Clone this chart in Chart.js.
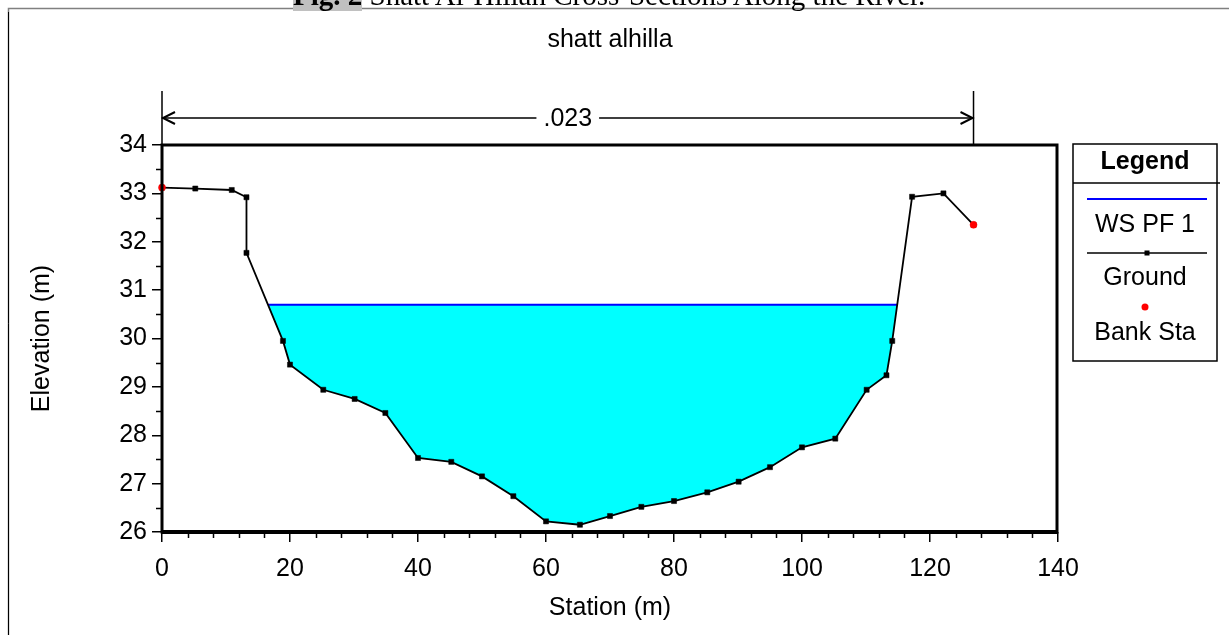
<!DOCTYPE html>
<html>
<head>
<meta charset="utf-8">
<script src="https://cdn.jsdelivr.net/npm/chart.js@4/dist/chart.umd.min.js"></script>
<style>
  html, body { margin: 0; padding: 0; background: #fff; overflow: hidden; }
  #wrap { position: relative; width: 1229px; height: 635px; overflow: hidden; }
  #chart { position: absolute; left: 0; top: 0; }
  #caption {
    position: absolute; left: 293px; top: -19px; white-space: nowrap; line-height: 29px;
    font-family: "Liberation Serif", "Times New Roman", serif; font-size: 29px; color: #000;
  }
  #caption b { background: #c0c0c0; }
</style>
</head>
<body>
<div id="wrap">
  <canvas id="chart" width="1229" height="635"></canvas>
  <div id="caption"><b>Fig. 2</b> Shatt Al-Hillah Cross-Sections Along the River.</div>
</div>
<script>
"use strict";

// station / elevation of the surveyed ground points
const groundStation = [0, 5.2, 10.9, 13.2, 13.2, 18.9, 20, 25.2, 30.1, 34.9, 40, 45.2, 50, 54.9, 60, 65.3,
  70, 74.9, 80, 85.2, 90.1, 95, 100, 105.2, 110.1, 113.2, 114.1, 117.2, 122.1, 126.8];
const groundElev = [33.12, 33.1, 33.07, 32.92, 31.77, 29.95, 29.46, 28.94, 28.75, 28.46, 27.53, 27.45, 27.15, 26.74, 26.22, 26.15,
  26.33, 26.52, 26.64, 26.82, 27.04, 27.34, 27.75, 27.93, 28.94, 29.24, 29.95, 32.93, 33.0, 32.35];

// water surface PF 1
const wsStation = [16.6, 114.9];
const wsElev = [30.7, 30.7];

// bank stations
const bankStation = [0, 126.8];
const bankElev = [33.12, 32.35];

const manningN = ".023";
const chartTitle = "shatt alhilla";
const legendLabels = ["WS PF 1", "Ground", "Bank Sta"];

const FONT = "'Liberation Sans', Arial, sans-serif";

function toPoints(xs, ys){
	return xs.map((v, i) => ({x: v, y: ys[i]}));
}

const overlay = {
	id: 'overlay',
	beforeDraw(chart){
		const ctx = chart.ctx;
		ctx.save();
		ctx.fillStyle = '#fff';
		ctx.fillRect(0, 0, chart.width, chart.height);
		// page frame
		ctx.strokeStyle = '#808080';
		ctx.lineWidth = 1.5;
		ctx.beginPath();
		ctx.moveTo(8.5, 635);
		ctx.lineTo(8.5, 8.5);
		ctx.lineTo(1229, 8.5);
		ctx.stroke();
		ctx.strokeStyle = '#000';
		ctx.lineWidth = 1;
		ctx.beginPath();
		ctx.moveTo(8.5, 12);
		ctx.lineTo(8.5, 635);
		ctx.stroke();
		ctx.restore();
	},
	afterDraw(chart){
		const {ctx, chartArea: a, scales: {x, y}} = chart;
		ctx.save();
		ctx.strokeStyle = '#000';
		ctx.fillStyle = '#000';

		// minor ticks
		ctx.lineWidth = 1.5;
		ctx.beginPath();
		for (let k = 0; k <= 35; k++){
			if (k % 5 === 0) continue;
			const px = Math.round(x.getPixelForValue(k * 4)) + 0.5;
			ctx.moveTo(px, a.bottom);
			ctx.lineTo(px, a.bottom + 6);
		}
		for (let k = 0; k <= 16; k++){
			if (k % 2 === 0) continue;
			const py = Math.round(y.getPixelForValue(26 + k * 0.5)) + 0.5;
			ctx.moveTo(a.left - 6, py);
			ctx.lineTo(a.left, py);
		}
		ctx.stroke();

		// plot frame
		ctx.lineWidth = 3;
		ctx.strokeRect(a.left, a.top, a.right - a.left - 1, a.bottom - a.top);
		ctx.lineWidth = 4;
		ctx.beginPath();
		ctx.moveTo(a.left - 1, a.bottom);
		ctx.lineTo(a.right - 1, a.bottom);
		ctx.stroke();

		// title
		ctx.font = '25px ' + FONT;
		ctx.textAlign = 'center';
		ctx.textBaseline = 'middle';
		ctx.fillText(chartTitle, (a.left + a.right) / 2, 40);

		// manning's n span
		const xl = x.getPixelForValue(bankStation[0]);
		const xr = x.getPixelForValue(bankStation[1]);
		const ly = 118;
		const mid = (xl + xr) / 2;
		const tw = ctx.measureText(manningN).width;
		ctx.fillText(manningN, mid, ly + 1);
		ctx.lineWidth = 1.5;
		ctx.beginPath();
		ctx.moveTo(xl, 91); ctx.lineTo(xl, a.top);
		ctx.moveTo(xr, 91); ctx.lineTo(xr, a.top);
		ctx.moveTo(xl, ly); ctx.lineTo(mid - tw / 2 - 7, ly);
		ctx.moveTo(mid + tw / 2 + 7, ly); ctx.lineTo(xr, ly);
		ctx.stroke();
		ctx.lineWidth = 2;
		ctx.beginPath();
		ctx.moveTo(xl + 13, ly - 6); ctx.lineTo(xl + 1, ly); ctx.lineTo(xl + 13, ly + 6);
		ctx.moveTo(xr - 13, ly - 6); ctx.lineTo(xr - 1, ly); ctx.lineTo(xr - 13, ly + 6);
		ctx.stroke();

		// legend box
		const L = 1073, R = 1217, T = 144, B = 361, C = (L + R) / 2;
		ctx.lineWidth = 1.5;
		ctx.strokeRect(L, T, R - L, B - T);
		ctx.beginPath();
		ctx.moveTo(L, 183); ctx.lineTo(R + 3, 183);
		ctx.stroke();
		ctx.font = 'bold 25px ' + FONT;
		ctx.fillText('Legend', C, 162);
		ctx.font = '25px ' + FONT;
		ctx.strokeStyle = '#0000ff';
		ctx.lineWidth = 2;
		ctx.beginPath();
		ctx.moveTo(1087, 199); ctx.lineTo(1207, 199);
		ctx.stroke();
		ctx.fillText(legendLabels[0], C, 225);
		ctx.strokeStyle = '#000';
		ctx.lineWidth = 1.5;
		ctx.beginPath();
		ctx.moveTo(1087, 253); ctx.lineTo(1207, 253);
		ctx.stroke();
		ctx.fillRect(1144.5, 250.5, 5, 5);
		ctx.fillText(legendLabels[1], C, 278);
		ctx.fillStyle = '#ff0000';
		ctx.beginPath();
		ctx.arc(1145, 307, 3.5, 0, Math.PI * 2);
		ctx.fill();
		ctx.fillStyle = '#000';
		ctx.fillText(legendLabels[2], C, 333);
		ctx.restore();
	}
};

function drawChart(){
	const canvas = document.getElementById("chart");
	new Chart(canvas, {
		type: 'scatter',
		data: {
			datasets: [
				{
					label: legendLabels[2],
					data: toPoints(bankStation, bankElev),
					showLine: false,
					pointStyle: 'circle',
					pointRadius: 3.5,
					pointBackgroundColor: '#ff0000',
					pointBorderColor: '#ff0000',
					pointBorderWidth: 0.5,
					clip: false
				},
				{
					label: legendLabels[1],
					data: toPoints(groundStation, groundElev),
					showLine: true,
					borderColor: '#000',
					borderWidth: 1.8,
					pointStyle: 'rect',
					pointRadius: 3.6,
					pointBackgroundColor: '#000',
					pointBorderColor: '#000',
					pointBorderWidth: 0.5,
					// water between the ground and the WS line
					fill: {target: 2, above: 'rgba(0,0,0,0)', below: '#00ffff'},
					clip: false
				},
				{
					label: legendLabels[0],
					data: toPoints(wsStation, wsElev),
					showLine: true,
					borderColor: '#0000ff',
					borderWidth: 2,
					pointRadius: 0
				}
			]
		},
		options: {
			responsive: false,
			animation: false,
			events: [],
			layout: {padding: {left: 0, top: 145, right: 171, bottom: 0}},
			plugins: {
				legend: {display: false},
				tooltip: {enabled: false},
				filler: {drawTime: 'beforeDatasetsDraw'}
			},
			scales: {
				x: {
					type: 'linear',
					min: 0,
					max: 140,
					afterFit: scale => { scale.height = 103; },
					ticks: {stepSize: 20, color: '#000', padding: 12, font: {family: FONT, size: 25}},
					grid: {drawOnChartArea: false, drawTicks: true, tickLength: 10, color: '#000', lineWidth: 1.5},
					border: {display: false},
					title: {display: true, text: 'Station (m)', color: '#000', padding: {bottom: 12}, font: {family: FONT, size: 25}}
				},
				y: {
					type: 'linear',
					min: 26,
					max: 34,
					afterFit: scale => { scale.width = 162; },
					ticks: {stepSize: 1, color: '#000', padding: 5, font: {family: FONT, size: 25}},
					grid: {drawOnChartArea: false, drawTicks: true, tickLength: 10, color: '#000', lineWidth: 1.5},
					border: {display: false},
					title: {display: true, text: 'Elevation (m)', color: '#000', padding: {top: 27}, font: {family: FONT, size: 25}}
				}
			}
		},
		plugins: [overlay]
	});
}

drawChart();
</script>
</body>
</html>
